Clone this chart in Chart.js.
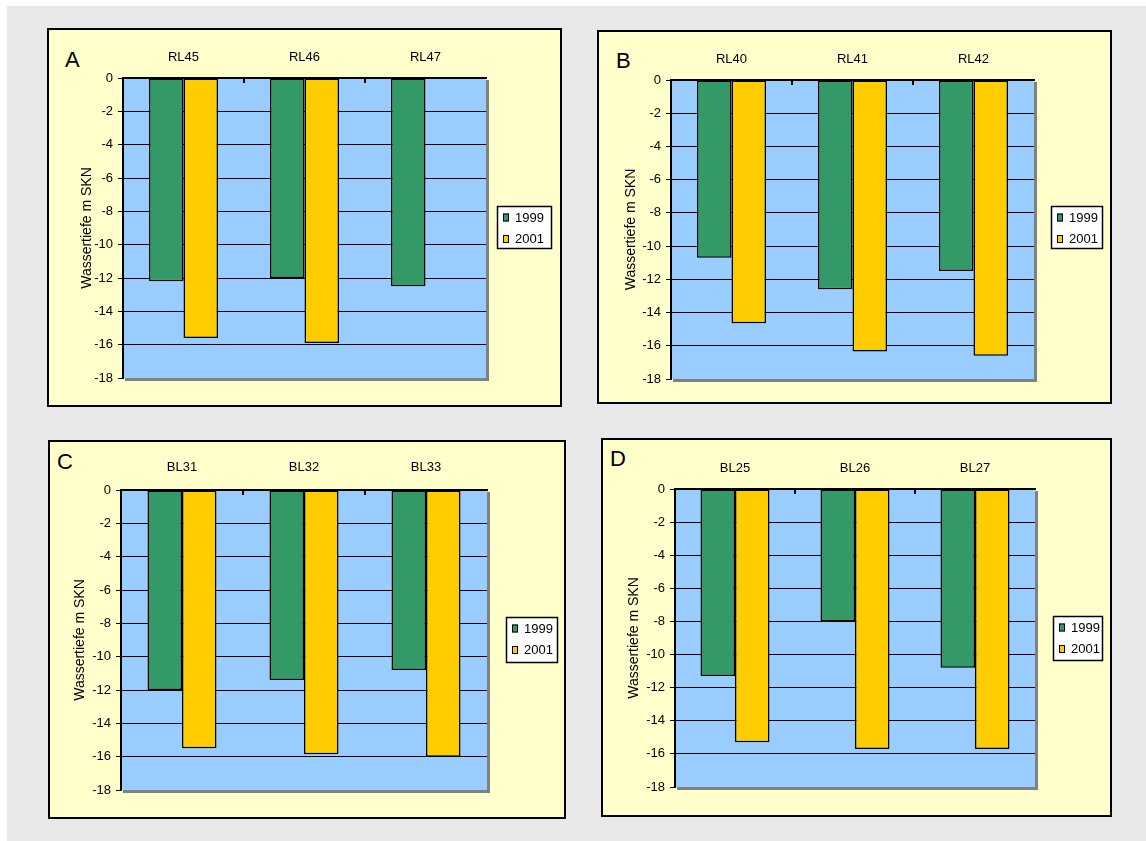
<!DOCTYPE html>
<html>
<head>
<meta charset="utf-8">
<script src="https://cdn.jsdelivr.net/npm/chart.js@4.4.1/dist/chart.umd.min.js"></script>
<style>
body { margin:0; background:#fff; width:1146px; height:841px; position:relative; overflow:hidden; font-family:"Liberation Sans", Arial, sans-serif; }
#bg { position:absolute; left:7px; top:6px; width:1139px; height:835px; background:#e9e9e9; }
.panel { position:absolute; box-sizing:border-box; border:2px solid #000; background:#ffffcc; }
.panel canvas { position:absolute; left:0; top:0; }
.letter { position:absolute; font-size:22px; line-height:22px; color:#000; }
</style>
</head>
<body>
<div id="bg"></div>
<script>
// values (m below SKN)
const seriesNames = ['1999', '2001'];
const seriesColors = ['#339966', '#ffcc00'];
const yMin = -18, yMax = 0, yStep = 2;
const yTitle = 'Wassertiefe m SKN';

const labelsA = ['RL45', 'RL46', 'RL47'];
const a1999 = [-12.2, -12.0, -12.5];
const a2001 = [-15.6, -15.9, null];

const labelsB = ['RL40', 'RL41', 'RL42'];
const b1999 = [-10.7, -12.6, -11.5];
const b2001 = [-14.65, -16.35, -16.6];

const labelsC = ['BL31', 'BL32', 'BL33'];
const c1999 = [-12.0, -11.4, -10.8];
const c2001 = [-15.5, -15.85, -16.0];

const labelsD = ['BL25', 'BL26', 'BL27'];
const d1999 = [-11.3, -8.0, -10.8];
const d2001 = [-15.3, -15.7, -15.7];

// page layout of the four panels
const panels = [
  { letter: 'A', labels: labelsA, data: [a1999, a2001], box: [47, 28, 562, 407], plot: [123, 78, 486, 378], legend: [497, 206, 55, 43], titleX: 87, labelY: 57, letterPos: [65, 60] },
  { letter: 'B', labels: labelsB, data: [b1999, b2001], box: [597, 30, 1112, 404], plot: [671, 80, 1034, 379], legend: [1051, 206, 52, 43], titleX: 631, labelY: 59, letterPos: [616, 61] },
  { letter: 'C', labels: labelsC, data: [c1999, c2001], box: [48, 440, 566, 819], plot: [121, 490, 487, 790], legend: [506, 617, 52, 46], titleX: 80, labelY: 467, letterPos: [57, 462] },
  { letter: 'D', labels: labelsD, data: [d1999, d2001], box: [601, 438, 1112, 817], plot: [675, 489, 1035, 787], legend: [1053, 616, 50, 45], titleX: 634, labelY: 468, letterPos: [610, 459] },
];

Chart.defaults.font.family = '"Liberation Sans", Arial, sans-serif';
Chart.defaults.color = '#000';

// blue plot area with grey shadow on right/bottom
const plotBg = {
  id: 'plotBg',
  beforeDraw(chart) {
    const { ctx, chartArea: a } = chart;
    ctx.save();
    ctx.fillStyle = '#808080';
    ctx.fillRect(a.right, a.top + 2, 3, a.bottom - a.top + 1);
    ctx.fillRect(a.left + 2, a.bottom, a.right - a.left + 1, 3);
    ctx.fillStyle = '#99ccff';
    ctx.fillRect(a.left, a.top, a.right - a.left, a.bottom - a.top);
    ctx.restore();
  }
};

// little tick marks between the categories, pointing into the plot
const catTicks = {
  id: 'catTicks',
  afterDatasetsDraw(chart) {
    const { ctx, chartArea: a } = chart;
    const xs = chart.scales.x;
    ctx.save();
    ctx.strokeStyle = '#000';
    ctx.lineWidth = 2;
    for (let i = 1; i < chart.data.labels.length; i++) {
      const x = Math.round((xs.getPixelForValue(i - 1) + xs.getPixelForValue(i)) / 2);
      ctx.beginPath();
      ctx.moveTo(x, a.top);
      ctx.lineTo(x, a.top + 5);
      ctx.stroke();
    }
    ctx.restore();
  }
};

const boxLegend = {
  id: 'boxLegend',
  afterDraw(chart, args, o) {
    const ctx = chart.ctx;
    ctx.save();
    ctx.fillStyle = '#fff';
    ctx.fillRect(o.x, o.y, o.w, o.h);
    ctx.strokeStyle = '#000';
    ctx.lineWidth = 1.5;
    ctx.strokeRect(o.x + 0.5, o.y + 0.5, o.w - 1, o.h - 1);
    ctx.font = '13px "Liberation Sans", Arial, sans-serif';
    ctx.textBaseline = 'middle';
    chart.data.datasets.forEach((ds, i) => {
      const cy = o.y + 11.5 + i * 21.5;
      ctx.fillStyle = ds.backgroundColor;
      ctx.fillRect(o.x + 6, cy - 4, 6, 8);
      ctx.lineWidth = 1;
      ctx.strokeRect(o.x + 6.5, cy - 3.5, 5, 7);
      ctx.fillStyle = '#000';
      ctx.fillText(ds.label, o.x + 18, cy + 0.5);
    });
    ctx.restore();
  }
};

panels.forEach(p => {
  const [x0, y0, x1, y1] = p.box;
  const div = document.createElement('div');
  div.className = 'panel';
  div.style.left = x0 + 'px';
  div.style.top = y0 + 'px';
  div.style.width = (x1 - x0) + 'px';
  div.style.height = (y1 - y0) + 'px';
  document.body.appendChild(div);

  const ox = x0 + 2, oy = y0 + 2;
  const cw = x1 - x0 - 4, ch = y1 - y0 - 4;

  const let_ = document.createElement('div');
  let_.className = 'letter';
  let_.textContent = p.letter;
  let_.style.left = (p.letterPos[0] - ox) + 'px';
  let_.style.top = (p.letterPos[1] - oy - 11) + 'px';
  div.appendChild(let_);

  const canvas = document.createElement('canvas');
  canvas.width = cw;
  canvas.height = ch;
  div.appendChild(canvas);

  const plotL = p.plot[0] - ox, plotT = p.plot[1] - oy;
  const padR = cw - (p.plot[2] - ox), padB = ch - (p.plot[3] - oy);
  const catW = (p.plot[2] - p.plot[0]) / p.labels.length;

  new Chart(canvas, {
    type: 'bar',
    data: {
      labels: p.labels,
      datasets: p.data.map((d, i) => ({
        label: seriesNames[i],
        data: d,
        backgroundColor: seriesColors[i],
        borderColor: '#000',
        borderWidth: 1.5,
        borderSkipped: false,
        categoryPercentage: 69 / catW,
        barPercentage: 1,
      })),
    },
    options: {
      responsive: false,
      animation: false,
      devicePixelRatio: 1,
      layout: { padding: { left: 0, top: 0, right: padR, bottom: padB } },
      plugins: {
        legend: { display: false },
        tooltip: { enabled: false },
        boxLegend: { x: p.legend[0] - ox, y: p.legend[1] - oy, w: p.legend[2], h: p.legend[3] },
      },
      scales: {
        x: {
          position: 'top',
          grid: { display: false, drawTicks: false },
          border: { color: '#000', width: 2 },
          ticks: { color: '#000', font: { size: 13 }, padding: plotT - 7.8 - (p.labelY - oy) },
          afterFit: s => { s.height = plotT; },
        },
        y: {
          min: yMin,
          max: yMax,
          ticks: { stepSize: yStep, color: '#000', font: { size: 13 }, padding: 5 },
          grid: {
            color: c => (c.tick && c.tick.value === yMin) ? 'rgba(0,0,0,0)' : '#000',
            tickColor: '#000',
            tickLength: 5,
            lineWidth: 1,
          },
          border: { color: '#000', width: 2 },
          title: { display: true, text: yTitle, color: '#000', font: { size: 14 }, padding: { top: p.titleX - ox - 8.4, bottom: 0 } },
          afterFit: s => { s.width = plotL; },
        },
      },
    },
    plugins: [plotBg, catTicks, boxLegend],
  });
});
</script>
</body>
</html>
